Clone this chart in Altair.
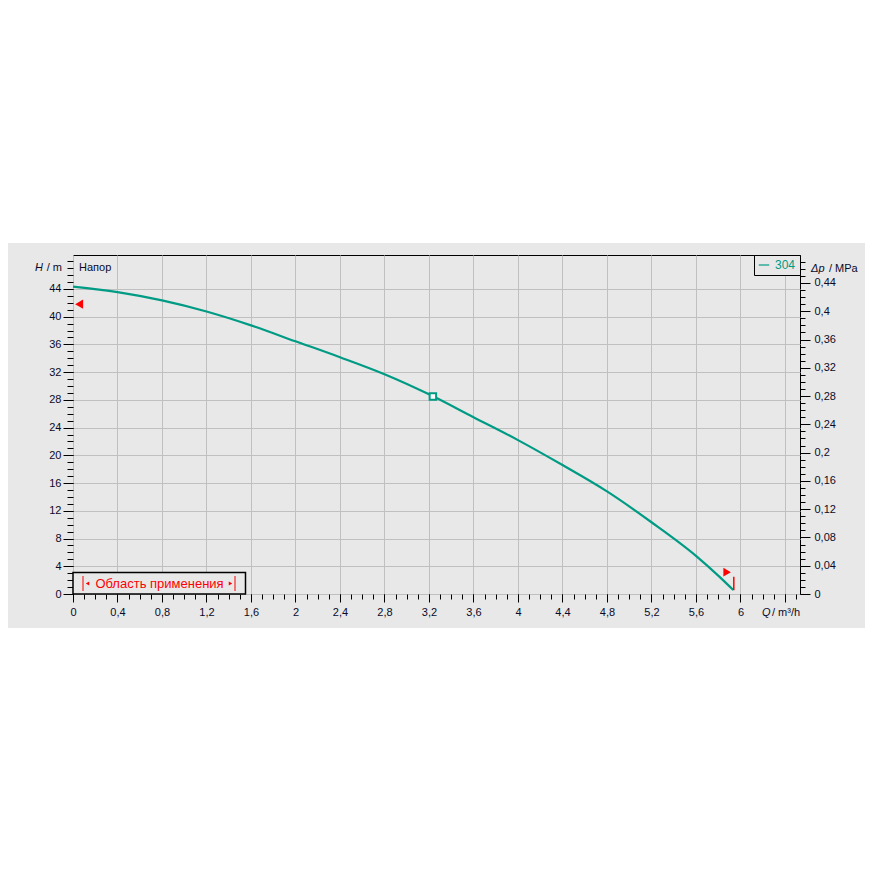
import altair as alt
import pandas as pd

# ---- data ----
Q = [0, 0.4, 0.8, 1.2, 1.6, 2.0, 2.4, 2.8, 3.2, 3.6, 4.0, 4.4, 4.8, 5.2, 5.6, 5.8, 5.935]
H = [44.33, 43.55, 42.35, 40.75, 38.75, 36.45, 34.15, 31.7, 28.8, 25.5, 22.2, 18.6, 14.8, 10.35, 5.5, 2.65, 0.58]
SERIES = "304"
DUTY_Q = [3.235]
DUTY_H = [28.5]
RANGE_START_Q = [0.055]
RANGE_START_H = [41.8]
RANGE_END_Q = [5.88]
RANGE_END_H = [3.15]
END_RULE_Q = [5.94]
END_RULE_H = [0.55]
END_RULE_H2 = [2.5]

X_MAJOR = [round(0.4 * i, 1) for i in range(17)]
X_MINOR = [round(0.1 * i, 1) for i in range(66)]
H_MAJOR = list(range(0, 45, 4))
H_MINOR = list(range(0, 49))
P_MAJOR = [round(0.04 * i, 2) for i in range(12)]
P_MINOR = [round(0.01 * i, 2) for i in range(48)]

M_TO_MPA = 0.00980665
X_DOM = [0, 6.535]
H_DOM = [0, 48.9]
P_DOM = [0, 48.9 * M_TO_MPA]

FONT = "Liberation Sans"
TEAL = "#009b84"
BG = "#e8e8e8"
GRID = "#c0c0c0"
TXT = "#0a0a28"
RED = "#ff0000"

W, HT = 727, 339

curve = pd.DataFrame({"Q": Q, "H": H, "s": [SERIES] * len(Q)})
one = pd.DataFrame({"k": [0]})

xs = alt.Scale(domain=X_DOM, nice=False, zero=False)
hs = alt.Scale(domain=H_DOM, nice=False, zero=False)
ps = alt.Scale(domain=P_DOM, nice=False, zero=False)

lab = "replace(format(datum.value, '.2~f'), '.', ',')"

common_axis = dict(domain=False, tickColor="black", labelFont=FONT, labelFontSize=11,
                   labelColor=TXT, title=None, gridColor=GRID, gridWidth=1)

# white area above the grey band
white_top = alt.Chart(one).mark_rect(color="white").encode(
    x=alt.value(-80), x2=alt.value(820), y=alt.value(-270), y2=alt.value(-12))

axes_major = alt.Chart(curve).mark_point(opacity=0).encode(
    x=alt.X("Q:Q", scale=xs, axis=alt.Axis(
        orient="bottom", values=X_MAJOR, grid=True, tickSize=8, labelPadding=4,
        labelExpr=f"datum.value > 6.2 ? '' : {lab}", labelFlush=False, labelOverlap=False,
        **common_axis)),
    y=alt.Y("H:Q", scale=hs, axis=alt.Axis(
        orient="left", values=H_MAJOR, grid=True, tickSize=10, labelPadding=2,
        labelFlush=False, labelOverlap=False, **common_axis)),
)

axes_minor = alt.Chart(curve).mark_point(opacity=0).encode(
    x=alt.X("Q:Q", scale=xs, axis=alt.Axis(
        orient="bottom", values=X_MINOR, grid=False, labels=False, tickSize=5, **common_axis)),
    y=alt.Y("H:Q", scale=hs, axis=alt.Axis(
        orient="left", values=H_MINOR, grid=False, labels=False, tickSize=6, **common_axis)),
)

pdf = pd.DataFrame({"P": [0, P_DOM[1]]})
axis_p_major = alt.Chart(pdf).mark_point(opacity=0).encode(
    y=alt.Y("P:Q", scale=ps, axis=alt.Axis(
        orient="right", values=P_MAJOR, grid=False, tickSize=10, labelPadding=4,
        labelExpr=lab, labelFlush=False, labelOverlap=False, **common_axis)),
)
axis_p_minor = alt.Chart(pdf).mark_point(opacity=0).encode(
    y=alt.Y("P:Q", scale=ps, axis=alt.Axis(
        orient="right", values=P_MINOR, grid=False, labels=False, tickSize=5, **common_axis)),
)

line = alt.Chart(curve).mark_line(strokeWidth=2.2, interpolate="monotone").encode(
    x=alt.X("Q:Q", scale=xs, axis=None),
    y=alt.Y("H:Q", scale=hs, axis=None),
    color=alt.Color("s:N", scale=alt.Scale(domain=[SERIES], range=[TEAL]),
                    legend=alt.Legend(orient="top-right", offset=0, title=None,
                                      strokeColor="black", fillColor=BG, padding=4,
                                      symbolType="stroke", symbolSize=110,
                                      symbolStrokeWidth=1.2, labelColor=TEAL,
                                      labelFontSize=12, labelFont=FONT, labelOffset=5)),
)

duty = alt.Chart(pd.DataFrame({"Q": DUTY_Q, "H": DUTY_H})).mark_point(
    shape="square", filled=True, fill="white", stroke=TEAL, strokeWidth=2, size=42, opacity=1
).encode(x=alt.X("Q:Q", scale=xs, axis=None), y=alt.Y("H:Q", scale=hs, axis=None))

tri_start = alt.Chart(pd.DataFrame({"Q": RANGE_START_Q, "H": RANGE_START_H})).mark_point(
    shape="triangle-left", filled=True, color=RED, size=85, opacity=1
).encode(x=alt.X("Q:Q", scale=xs, axis=None), y=alt.Y("H:Q", scale=hs, axis=None))

tri_end = alt.Chart(pd.DataFrame({"Q": RANGE_END_Q, "H": RANGE_END_H})).mark_point(
    shape="triangle-right", filled=True, color=RED, size=75, opacity=1
).encode(x=alt.X("Q:Q", scale=xs, axis=None), y=alt.Y("H:Q", scale=hs, axis=None))

end_rule = alt.Chart(pd.DataFrame({"Q": END_RULE_Q, "H": END_RULE_H, "H2": END_RULE_H2})).mark_rule(
    color=RED, strokeWidth=1.5
).encode(x=alt.X("Q:Q", scale=xs, axis=None), y=alt.Y("H:Q", scale=hs, axis=None), y2="H2:Q")

# ---- annotations (text & boxes) ----
def txt(text, x, y, align="left", size=11, color=TXT, italic=False):
    return alt.Chart(one).mark_text(
        text=text, align=align, baseline="middle", font=FONT, fontSize=size, color=color,
        fontStyle="italic" if italic else "normal"
    ).encode(x=alt.value(x), y=alt.value(y))

napor = txt("Напор", 6, 13)
h_title = [txt("H", -30, 13, align="right", italic=True), txt("/ m", -11, 13, align="right")]
p_title = [txt("Δp", 738, 14, italic=True), txt("/ MPa", 756, 14)]
q_title = [txt("Q", 689, 358, italic=True), txt("/ m³/h", 699, 358)]

box = alt.Chart(one).mark_rect(fill=BG, stroke="black", strokeWidth=1.5).encode(
    x=alt.value(0), x2=alt.value(172.5), y=alt.value(317.5), y2=alt.value(339))
box_text = txt("Область применения", 86.5, 328.5, align="center", size=13, color=RED)
bars = [alt.Chart(one).mark_rule(color=RED, strokeWidth=1).encode(
            x=alt.value(bx), y=alt.value(321), y2=alt.value(336)) for bx in (10, 162)]
arrows = [
    alt.Chart(one).mark_point(shape="triangle-left", filled=True, color=RED, size=16, opacity=1)
    .encode(x=alt.value(14.5), y=alt.value(328.5)),
    alt.Chart(one).mark_point(shape="triangle-right", filled=True, color=RED, size=16, opacity=1)
    .encode(x=alt.value(157.5), y=alt.value(328.5)),
]

chart = alt.layer(
    white_top, axes_major, axes_minor, axis_p_major, axis_p_minor,
    line, duty, tri_start, tri_end, end_rule,
    napor, *h_title, *p_title, *q_title, box, box_text, *bars, *arrows,
).resolve_scale(
    x="independent", y="independent"
).resolve_axis(
    x="independent", y="independent"
).properties(
    width=W, height=HT,
    autosize=alt.AutoSizeParams(type="none"),
    padding={"left": 65, "top": 247, "right": 65, "bottom": 34},
    background=BG,
).configure_view(
    fill=BG, stroke="black", strokeWidth=1
)

chart.save("out.html", embed_options={"renderer": "svg", "actions": False})
